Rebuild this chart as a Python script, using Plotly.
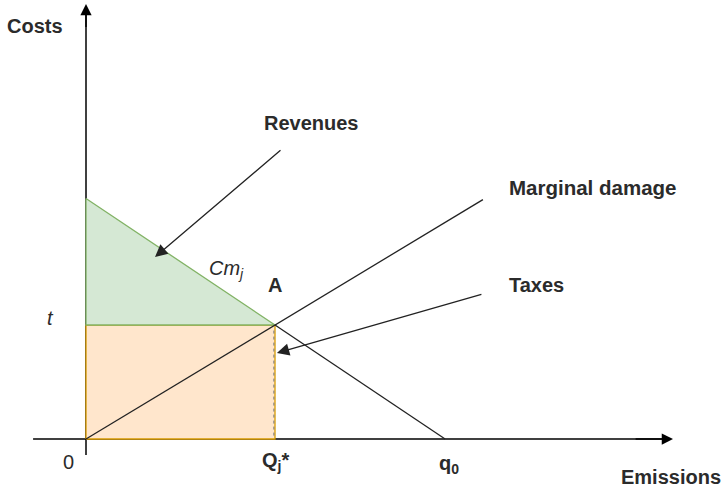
import plotly.graph_objects as go

# ---- data (economic units) ----
Q_star = 10.0          # optimal emissions Q_j*
q0 = 19.0              # unabated emissions
t = 10.0               # tax level
demand_q = [0, 10, 19]          # marginal abatement cost Cm_j
demand_p = [21.1, 10, 0]
md_q = [0, 21]                  # marginal damage
md_c = [0, 21]
tick_texts = ["0", "<b>Q<sub>j</sub>*</b>", "<b>q<sub>0</sub></b>"]

# pixel mapping: x px = 86 + 18.9*x ; y px = 439 - 11.4*y
XR = [-86 / 18.9, (724 - 86) / 18.9]
YR = [(439 - 488) / 11.4, 439 / 11.4]

FONT = "Liberation Sans, Arial, sans-serif"
TXT = "#2b2b2b"
GREEN_LINE = "#82b366"
GREEN_FILL = "#d5e8d4"
ORANGE_LINE = "#d79b00"
ORANGE_FILL = "#ffe6cc"

fig = go.Figure()

# axes lines (drawn first, shapes cover them)
fig.add_trace(go.Scatter(x=[-2.8, 30.6], y=[0, 0], mode="lines",
                         line=dict(color="black", width=1.5), hoverinfo="skip"))
fig.add_trace(go.Scatter(x=[0, 0], y=[-1.4, 37.6], mode="lines",
                         line=dict(color="black", width=1.5), hoverinfo="skip"))

# orange rectangle (taxes)
fig.add_trace(go.Scatter(x=[0, Q_star, Q_star, 0, 0], y=[0, 0, t, t, 0],
                         mode="lines", fill="toself", fillcolor=ORANGE_FILL,
                         line=dict(color=ORANGE_LINE, width=1.3), hoverinfo="skip"))
# dotted right edge
fig.add_trace(go.Scatter(x=[Q_star - 0.06, Q_star - 0.06], y=[0.3, t - 0.3], mode="lines",
                         line=dict(color="#777777", width=1, dash="dot"), hoverinfo="skip"))

# green triangle (revenues / rent)
fig.add_trace(go.Scatter(x=[0, demand_q[1], 0, 0], y=[demand_p[0], demand_p[1], t, demand_p[0]],
                         mode="lines", fill="toself", fillcolor=GREEN_FILL,
                         line=dict(color=GREEN_LINE, width=1.3), hoverinfo="skip"))

# demand continuation beyond A
fig.add_trace(go.Scatter(x=demand_q[1:], y=demand_p[1:], mode="lines",
                         line=dict(color="#222222", width=1.3), hoverinfo="skip"))
# marginal damage
fig.add_trace(go.Scatter(x=md_q, y=md_c, mode="lines",
                         line=dict(color="#222222", width=1.3), hoverinfo="skip"))

annotations = []
# axis arrowheads
annotations.append(dict(x=31.06, y=0, ax=29.0, ay=0, xref="x", yref="y", axref="x", ayref="y",
                        showarrow=True, arrowhead=2, arrowsize=1.5, arrowwidth=1.5,
                        arrowcolor="black", text="", standoff=0))
annotations.append(dict(x=0, y=38.16, ax=0, ay=36.0, xref="x", yref="y", axref="x", ayref="y",
                        showarrow=True, arrowhead=2, arrowsize=1.5, arrowwidth=1.5,
                        arrowcolor="black", text="", standoff=0))
# pointer arrows
annotations.append(dict(x=3.65, y=15.96, ax=10.37, ay=25.44, xref="x", yref="y", axref="x", ayref="y",
                        showarrow=True, arrowhead=2, arrowsize=1.9, arrowwidth=1.3,
                        arrowcolor="#222222", text="", standoff=0))
annotations.append(dict(x=10.1, y=7.54, ax=21.0, ay=12.72, xref="x", yref="y", axref="x", ayref="y",
                        showarrow=True, arrowhead=2, arrowsize=1.9, arrowwidth=1.3,
                        arrowcolor="#222222", text="", standoff=0))


def label(text, x, y, xanchor="left", size=20):
    annotations.append(dict(x=x, y=y, xref="x", yref="y", text=text, showarrow=False,
                            xanchor=xanchor, yanchor="middle",
                            font=dict(family=FONT, size=size, color=TXT)))


label("<b>Costs</b>", -4.29, 36.23)
label("<b>Revenues</b>", 9.31, 27.72)
label("<b>Marginal damage</b>", 22.28, 22.02, size=20.5)
label("<b>Taxes</b>", 22.28, 13.51)
label("<i>Cm<sub>j</sub></i>", 6.40, 14.9)
label("<b>A</b>", 10.0, 13.51, xanchor="center")
label("<i>t</i>", -1.90, 10.61, xanchor="center")
label("<b>Emissions</b>", 33.7, -3.33, xanchor="right")
label(tick_texts[0], -0.95, -2.02, xanchor="center")
label(tick_texts[1], 9.21, -2.0)
label(tick_texts[2], 18.57, -2.2)

fig.update_layout(
    width=724, height=488, autosize=False,
    margin=dict(l=0, r=0, t=0, b=0),
    plot_bgcolor="white", paper_bgcolor="white",
    showlegend=False,
    xaxis=dict(range=XR, visible=False, fixedrange=True),
    yaxis=dict(range=YR, visible=False, fixedrange=True),
    annotations=annotations,
)

fig.write_html("out.html", config={"displayModeBar": False},
               post_script="document.body.style.margin='0';document.body.style.overflow='hidden';")
